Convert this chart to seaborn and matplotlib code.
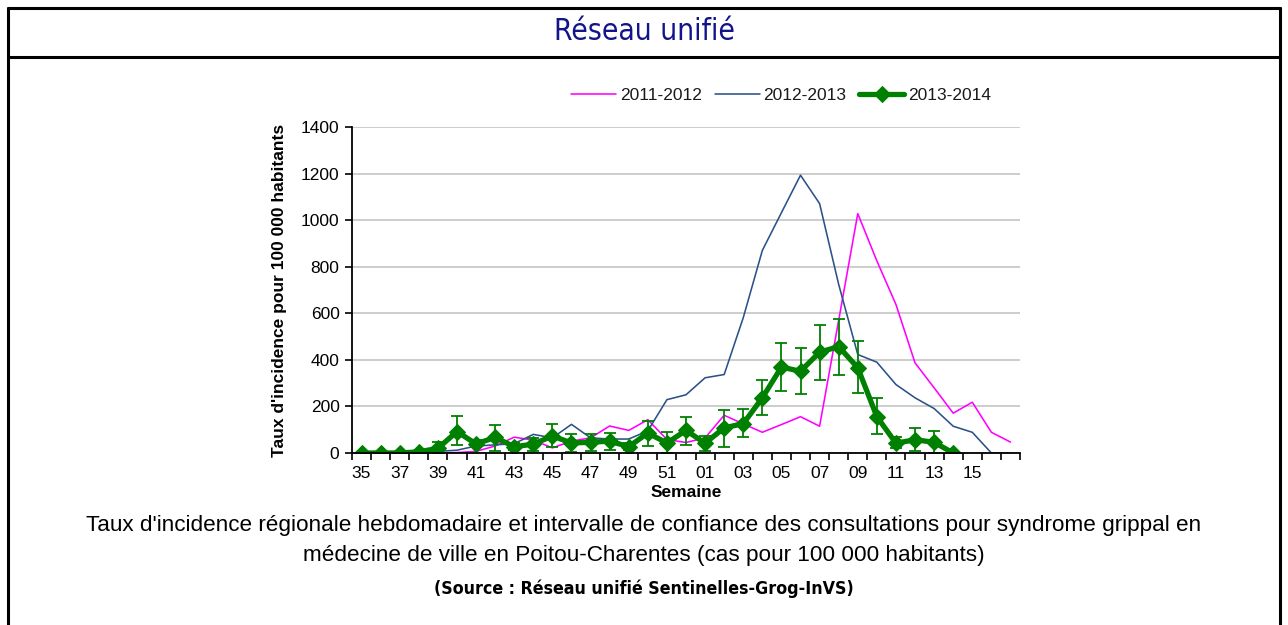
import numpy as np
import pandas as pd
import matplotlib
matplotlib.use("Agg")
import matplotlib.pyplot as plt
from matplotlib.lines import Line2D
import seaborn as sns

# ---------------- data ----------------
weeks = ["35", "36", "37", "38", "39", "40", "41", "42", "43", "44", "45", "46",
         "47", "48", "49", "50", "51", "52", "01", "02", "03", "04", "05", "06",
         "07", "08", "09", "10", "11", "12", "13", "14", "15", "16", "17"]

s2011_2012 = [0, 0, 0, 0, 0, 2, 7, 30, 68, 55, 22, 51, 65, 116, 97, 143, 58, 45,
              65, 162, 125, 89, 122, 156, 115, 570, 1028, 825, 638, 387, 280,
              171, 218, 89, 47]

s2012_2013 = [0, 0, 0, 3, 7, 12, 30, 35, 40, 80, 65, 123, 65, 60, 60, 95, 229,
              250, 323, 337, 581, 870, 1032, 1193, 1071, 724, 423, 390, 294,
              237, 191, 115, 89, 0, 0]

s2013_2014 = [0, 0, 0, 5, 20, 92, 39, 67, 27, 38, 73, 43, 46, 51, 27, 86, 43,
              97, 42, 108, 126, 237, 369, 351, 433, 457, 366, 156, 42, 57, 46,
              0, np.nan, np.nan, np.nan]

low2013_2014 = [np.nan, np.nan, np.nan, np.nan, 0, 36, 25, 7, 12, 7, 27, 3, 7,
                11, 12, 29, 0, 36, 7, 26, 67, 162, 265, 254, 313, 336, 258, 83,
                22, 7, 0, np.nan, np.nan, np.nan, np.nan]

high2013_2014 = [np.nan, np.nan, np.nan, np.nan, 48, 159, 55, 119, 42, 66, 124,
                 83, 80, 87, 42, 138, 89, 155, 72, 184, 189, 313, 472, 450, 548,
                 575, 479, 237, 70, 106, 93, np.nan, np.nan, np.nan, np.nan]

labels = ["2011-2012", "2012-2013", "2013-2014"]
title = "Réseau unifié"
ylabel = "Taux d'incidence pour 100 000 habitants"
xlabel = "Semaine"
caption1 = ("Taux d'incidence régionale hebdomadaire et intervalle de confiance "
            "des consultations pour syndrome grippal en")
caption2 = "médecine de ville en Poitou-Charentes (cas pour 100 000 habitants)"
source = "(Source : Réseau unifié Sentinelles-Grog-InVS)"

# ---------------- style ----------------
sns.set_theme(style="white")
plt.rcParams["font.family"] = ["Liberation Sans", "DejaVu Sans"]

W, H = 1288, 625
fig = plt.figure(figsize=(W / 100, H / 100), dpi=100)
fig.patch.set_facecolor("white")

L, R, T, B = 352, 1020, 127, 453
ax = fig.add_axes([L / W, 1 - B / H, (R - L) / W, (B - T) / H])
ax.set_facecolor("white")

x = np.arange(len(weeks))
df = pd.DataFrame({"pos": x,
                   labels[0]: s2011_2012,
                   labels[1]: s2012_2013,
                   labels[2]: s2013_2014})

PINK = "#FF00FF"
BLUE = "#2B5287"
GREEN = "#008000"

sns.lineplot(data=df, x="pos", y=labels[0], color=PINK, lw=1.15, ax=ax,
             label=labels[0], errorbar=None, zorder=3)
sns.lineplot(data=df, x="pos", y=labels[1], color=BLUE, lw=1.15, ax=ax,
             label=labels[1], errorbar=None, zorder=3)

y3 = np.array(s2013_2014, dtype=float)
lo = np.array(low2013_2014, dtype=float)
hi = np.array(high2013_2014, dtype=float)
mask = ~np.isnan(lo)
ax.errorbar(x[mask], y3[mask], yerr=[y3[mask] - lo[mask], hi[mask] - y3[mask]],
            fmt="none", ecolor=GREEN, elinewidth=1.3, capsize=4.5, capthick=1.3,
            zorder=4)
d3 = df.dropna(subset=[labels[2]])
sns.lineplot(data=d3, x="pos", y=labels[2], color=GREEN, lw=3.8, ax=ax,
             label=labels[2], errorbar=None, marker="D", markersize=8.5,
             markeredgecolor=GREEN, markerfacecolor=GREEN, zorder=5)

# axes
ax.set_xlim(-0.5, len(weeks) - 0.5)
ax.set_ylim(0, 1400)
ax.set_yticks(np.arange(0, 1401, 200))
ax.set_xticks(x[0:33:2])
ax.set_xticklabels([weeks[i] for i in range(0, 33, 2)])
ax.set_xticks(np.arange(-0.5, len(weeks), 1), minor=True)
ax.tick_params(axis="x", which="major", length=0, pad=9, labelsize=12.5,
               labelcolor="black")
ax.tick_params(axis="x", which="minor", length=5, width=1.2, direction="out",
               color="black", bottom=True)
ax.tick_params(axis="y", which="major", length=5, width=1.2, direction="out",
               color="black", labelsize=12.5, labelcolor="black", left=True,
               pad=4)
ax.grid(axis="y", color="#C0C0C0", lw=1.1)
ax.grid(axis="x", visible=False)
ax.set_axisbelow(True)
for s in ["top", "right"]:
    ax.spines[s].set_visible(False)
for s in ["left", "bottom"]:
    ax.spines[s].set_color("black")
    ax.spines[s].set_linewidth(1.3)
    ax.spines[s].set_zorder(6)

ax.set_xlabel(xlabel, fontsize=12.5, fontweight="bold", color="black", labelpad=3)
ax.set_ylabel(ylabel, fontsize=12.5, fontweight="bold", color="black", labelpad=10)

leg = ax.legend(loc="center", bbox_to_anchor=((781 - L) / (R - L), (B - 95) / (B - T)),
                ncol=3, frameon=True, facecolor="white", edgecolor="none",
                framealpha=1, fancybox=False, fontsize=12.5, handlelength=2.6,
                handletextpad=0.2, columnspacing=0.75, borderpad=1.4)
leg.set_zorder(7)
for t in leg.get_texts():
    t.set_color("#1a1a1a")

# texts
fig.text(0.5, 1 - 32 / H, title, ha="center", va="center", fontsize=21.5,
         color="#13138A", family=["DejaVu Sans"], fontstretch="condensed")
fig.text(0.5, 1 - 525 / H, caption1, ha="center", va="center", fontsize=16.2,
         color="black")
fig.text(0.5, 1 - 556 / H, caption2, ha="center", va="center", fontsize=16.2,
         color="black")
fig.text(0.5, 1 - 589 / H, source, ha="center", va="center", fontsize=12.8,
         color="black", fontweight="bold", family=["DejaVu Sans"],
         fontstretch="condensed")

# frame
lw = 2.2
xl, xr, yt, ys = 8 / W, 1280 / W, 1 - 8 / H, 1 - 57 / H
fig.add_artist(Line2D([xl, xl], [0, yt], transform=fig.transFigure, color="black", lw=lw))
fig.add_artist(Line2D([xr, xr], [0, yt], transform=fig.transFigure, color="black", lw=lw))
fig.add_artist(Line2D([xl, xr], [yt, yt], transform=fig.transFigure, color="black", lw=lw))
fig.add_artist(Line2D([xl, xr], [ys, ys], transform=fig.transFigure, color="black", lw=lw))

fig.savefig("out.png", dpi=100, facecolor="white")
